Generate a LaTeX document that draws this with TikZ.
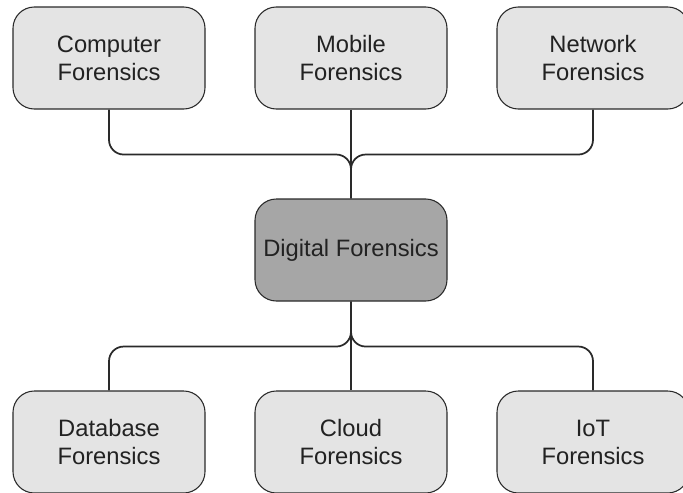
\documentclass[tikz,border=0pt]{standalone}
\usepackage{fontspec}
\setmainfont{Liberation Sans}
\definecolor{boxgray}{HTML}{E4E4E4}
\definecolor{centergray}{HTML}{A6A6A6}
\definecolor{inkgray}{HTML}{222222}
\definecolor{linegray}{HTML}{2A2A2A}
\begin{document}
\begin{tikzpicture}[x=0.75pt,y=-0.75pt,
  box/.style={draw=linegray, line width=0.8pt, rounded corners=16pt,
    minimum width=144pt, minimum height=76.5pt, fill=boxgray,
    align=center, text=inkgray, font=\fontsize{17.8}{21}\selectfont},
  link/.style={draw=linegray, line width=1.3pt, rounded corners=11pt}]
\useasboundingbox (0,0) rectangle (683,493);

% outer ring of forensic areas
\node[box] (comp)  at (109,58)  {Computer\\Forensics};
\node[box] (mob)   at (351,58)  {Mobile\\Forensics};
\node[box] (net)   at (593,58)  {Network\\Forensics};
\node[box] (db)    at (109,442) {Database\\Forensics};
\node[box] (cloud) at (351,442) {Cloud\\Forensics};
\node[box] (iot)   at (593,442) {IoT\\Forensics};

% central node
\node[box, fill=centergray] (dig) at (351,250) {Digital Forensics};

% upper branches
\draw[link] (comp.south) -- ++(0,45) -| (dig.north);
\draw[link] (net.south) -- ++(0,45) -| (dig.north);
\draw[link] (mob.south) -- (dig.north);

% lower branches
\draw[link] (dig.south) -- ++(0,45) -| (db.north);
\draw[link] (dig.south) -- ++(0,45) -| (iot.north);
\draw[link] (dig.south) -- (cloud.north);
\end{tikzpicture}
\end{document}
